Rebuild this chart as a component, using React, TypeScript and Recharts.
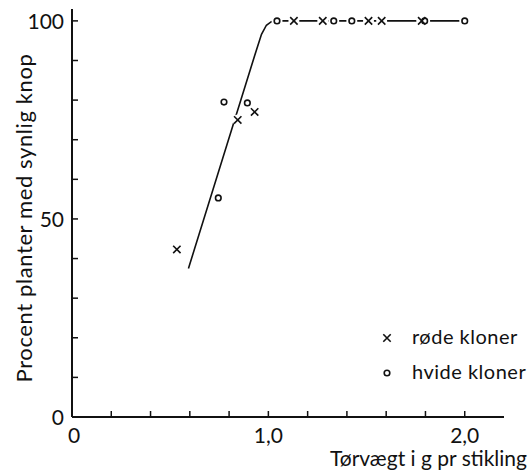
import {
  ComposedChart,
  Line,
  Scatter,
  XAxis,
  YAxis,
} from "recharts";

// fitted curve (drawn by hand in the original figure)
const fitX = [0.593, 0.93, 0.965, 0.99, 1.015, 1.045, 2.0];
const fitY = [37.5, 91.2, 96.6, 98.9, 99.8, 100, 100];

// røde kloner (x)
const redX = [0.534, 0.844, 0.93, 1.13, 1.277, 1.51, 1.577, 1.781];
const redY = [42.3, 75.0, 77.0, 100, 100, 100, 100, 100];

// hvide kloner (o)
const whiteX = [0.745, 0.774, 0.893, 1.044, 1.333, 1.425, 1.796, 2.0];
const whiteY = [55.3, 79.5, 79.3, 100, 100, 100, 100, 100];

const xTicks = [0, 0.2, 0.4, 0.6, 0.8, 1.0, 1.2, 1.4, 1.6, 1.8, 2.0];
const xTickLabels: Record<string, string> = { "0": "0", "1": "1,0", "2": "2,0" };
const yTicks = [0, 10, 20, 30, 40, 50, 60, 70, 80, 90, 100];
const yTickLabels: Record<string, string> = { "0": "0", "50": "50", "100": "100" };

const legendItems = [
  { label: "røde kloner", mark: "x" },
  { label: "hvide kloner", mark: "o" },
];

const FONT = "Lato, 'Open Sans', sans-serif";

const fitData = fitX.map((x, i) => ({ x, y: fitY[i] }));
const redData = redX.map((x, i) => ({ x, y: redY[i] }));
const whiteData = whiteX.map((x, i) => ({ x, y: whiteY[i] }));
const allData = [...redData, ...whiteData];

// white patch behind every mark, so the line breaks around it like in the print
function Gap({ cx, cy }: any) {
  return <circle cx={cx} cy={cy} r={5.5} fill="#fff" />;
}

function Cross({ cx, cy }: any) {
  return (
    <path
      d={`M${cx - 3.7},${cy - 3.7}L${cx + 3.7},${cy + 3.7}M${cx + 3.7},${cy - 3.7}L${cx - 3.7},${cy + 3.7}`}
      stroke="#111"
      strokeWidth={1.6}
    />
  );
}

function Ring({ cx, cy }: any) {
  return <circle cx={cx} cy={cy} r={2.8} fill="none" stroke="#111" strokeWidth={1.6} />;
}

function XTick({ x, y, payload }: any) {
  const label = xTickLabels[String(payload.value)];
  return (
    <g>
      {payload.value !== 0 && (
        <line x1={x} y1={y} x2={x} y2={y - 6} stroke="#111" strokeWidth={1.5} />
      )}
      {label && (
        <text x={x + (payload.value === 0 ? 2 : 0)} y={y + 26} textAnchor="middle" fontSize={21} fontFamily={FONT} fill="#111">
          {label}
        </text>
      )}
    </g>
  );
}

function YTick({ x, y, payload }: any) {
  const label = yTickLabels[String(payload.value)];
  return (
    <g>
      {payload.value !== 0 && (
        <line x1={x} y1={y} x2={x + 6} y2={y} stroke="#111" strokeWidth={1.5} />
      )}
      {label && (
        <text x={x - 8} y={y + 8} textAnchor="end" fontSize={21} fontFamily={FONT} fill="#111">
          {label}
        </text>
      )}
    </g>
  );
}

export default function App() {
  return (
    <div style={{ position: "absolute", left: 0, top: 0, width: 530, height: 471, background: "#fff" }}>
      <ComposedChart
        width={530}
        height={471}
        margin={{ top: 9, right: 26, bottom: 0, left: 12 }}
      >
        <XAxis
          type="number"
          dataKey="x"
          domain={[0, 2.2]}
          ticks={xTicks}
          interval={0}
          tickSize={0}
          tickMargin={0}
          tickLine={false}
          tick={<XTick />}
          height={54}
          axisLine={{ stroke: "#111", strokeWidth: 2 }}
          allowDataOverflow
        />
        <YAxis
          type="number"
          dataKey="y"
          domain={[0, 103]}
          ticks={yTicks}
          interval={0}
          tickSize={0}
          tickMargin={0}
          tickLine={false}
          tick={<YTick />}
          width={60}
          axisLine={{ stroke: "#111", strokeWidth: 2 }}
          allowDataOverflow
        />
        <Line
          data={fitData}
          dataKey="y"
          type="linear"
          stroke="#111"
          strokeWidth={1.6}
          dot={false}
          activeDot={false}
          isAnimationActive={false}
        />
        <Scatter data={allData} dataKey="y" shape={<Gap />} isAnimationActive={false} />
        <Scatter data={whiteData} dataKey="y" shape={<Ring />} isAnimationActive={false} />
        <Scatter data={redData} dataKey="y" shape={<Cross />} isAnimationActive={false} />
      </ComposedChart>

      <svg
        width={530}
        height={471}
        style={{ position: "absolute", left: 0, top: 0, pointerEvents: "none" }}
      >
        <text
          transform="translate(32,218) rotate(-90)"
          textAnchor="middle"
          fontSize={22}
          letterSpacing={0.6}
          fontFamily={FONT}
          fill="#111"
        >
          Procent planter med synlig knop
        </text>
        <text x={527} y={466} textAnchor="end" fontSize={21} fontFamily={FONT} fill="#111">
          Tørvægt i g  pr stikling
        </text>
        {legendItems.map((item, i) => {
          const cy = 338 + i * 35;
          return (
            <g key={item.label}>
              {item.mark === "x" ? <Cross cx={387} cy={cy} /> : <Ring cx={387} cy={cy} />}
              <text x={412} y={cy + 6} fontSize={20} letterSpacing={0.5} fontFamily={FONT} fill="#111">
                {item.label}
              </text>
            </g>
          );
        })}
      </svg>
    </div>
  );
}
